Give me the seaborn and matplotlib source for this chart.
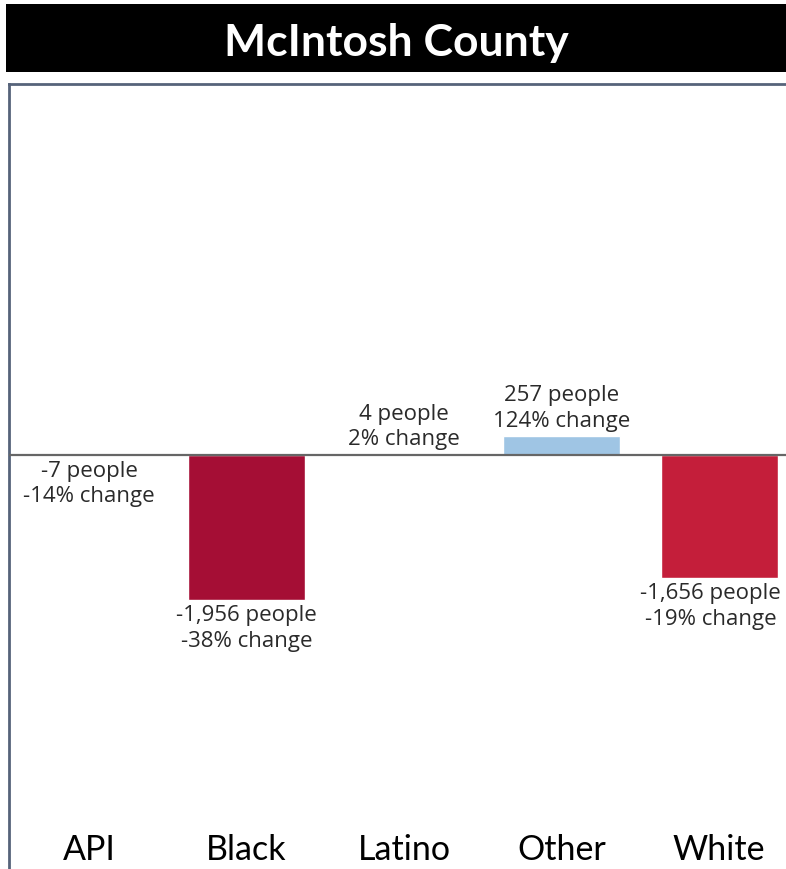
import matplotlib
matplotlib.use("Agg")
import matplotlib.pyplot as plt
import matplotlib.transforms as mtrans
import seaborn as sns
import pandas as pd

# population change by group, McIntosh County
groups = ["API", "Black", "Latino", "Other", "White"]
people = [-7, -1956, 4, 257, -1656]
pct = [-14, -38, 2, 124, -19]
colors = {"API": "#a50e35", "Black": "#a50e35", "Latino": "#9fc5e4",
          "Other": "#9fc5e4", "White": "#c41e3a"}

df = pd.DataFrame({"group": groups, "people": people, "pct": pct})

sns.set_theme(style="white")
plt.rcParams["font.family"] = ["Open Sans", "DejaVu Sans"]

W, H = 786, 869
fig = plt.figure(figsize=(W / 100, H / 100), dpi=100)

# black title bar
tax = fig.add_axes([6 / W, (H - 72) / H, 1 - 6 / W, 68 / H])
tax.set_facecolor("black")
tax.set_xticks([])
tax.set_yticks([])
for s in tax.spines.values():
    s.set_visible(False)
tax.text(0.5, 0.42, "McIntosh County", color="white", fontsize=32,
         fontweight="bold", family=["Lato", "DejaVu Sans"],
         ha="center", va="center", transform=tax.transAxes)

ax = fig.add_axes([9 / W, 0, 1 - 9 / W, (H - 84) / H])
sns.barplot(data=df, x="group", y="people", hue="group", palette=colors,
            width=0.743, legend=False, ax=ax, saturation=1)
ax.set_xlim(-0.508, 4.425)
ax.set_ylim(-5590, 5007)
ax.axhline(0, color="#666666", lw=1.6, zorder=3)

for side in ["right", "bottom"]:
    ax.spines[side].set_visible(False)
for side in ["left", "top"]:
    ax.spines[side].set_color("#56637a")
    ax.spines[side].set_linewidth(2)
ax.set_xticks([])
ax.set_yticks([])
ax.set_xlabel("")
ax.set_ylabel("")

for i, (p, c) in enumerate(zip(people, pct)):
    label = f"{p:,} people\n{c}% change"
    dx = -6 if i == len(groups) - 1 else 0  # keep last label inside the edge
    if p < 0:
        ax.annotate(label, (i, p), xytext=(dx, -4), textcoords="offset points",
                    ha="center", va="top", fontsize=16, color="#2a2a2a",
                    linespacing=1.28, annotation_clip=False)
    else:
        ax.annotate(label, (i, p), xytext=(dx, 3), textcoords="offset points",
                    ha="center", va="bottom", fontsize=16, color="#2a2a2a",
                    linespacing=1.28, annotation_clip=False)

trans = mtrans.blended_transform_factory(ax.transData, ax.transAxes)
for i, g in enumerate(groups):
    ax.text(i, 0.024, g, transform=trans, ha="center", va="center",
            fontsize=24.5, family=["Lato", "DejaVu Sans"], color="black")

fig.savefig("out.png", dpi=100)
